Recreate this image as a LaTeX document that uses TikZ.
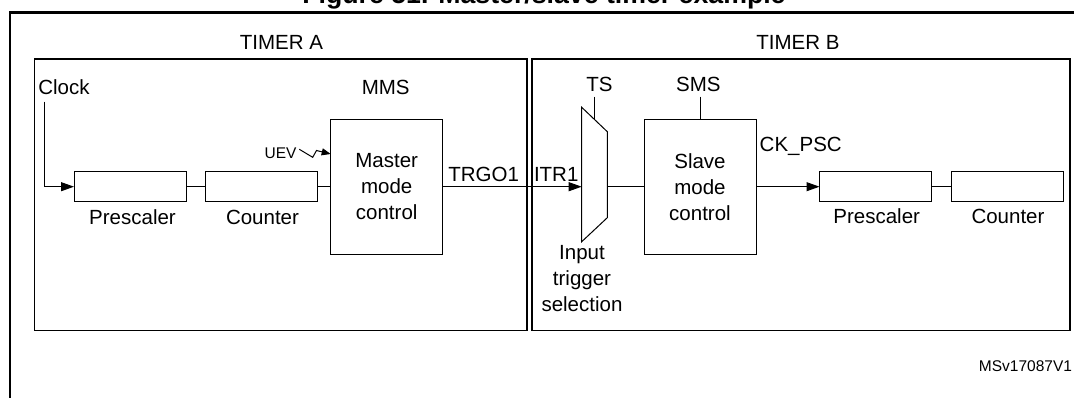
\documentclass[tikz,border=0pt]{standalone}
\usepackage{fontspec}
\setmainfont{Liberation Sans}
\usetikzlibrary{arrows.meta}
\begin{document}
\begin{tikzpicture}[x=1pt,y=-1pt,
  every node/.style={inner sep=0pt,outer sep=0pt},
  lbl/.style={font=\fontsize{20.5}{26}\selectfont},
  smalllbl/.style={font=\fontsize{15.5}{18}\selectfont},
  titlelbl/.style={font=\bfseries\fontsize{26.7}{30}\selectfont},
  blk/.style={draw,line width=1pt},
  timerbox/.style={draw,line width=1.4pt},
  conn/.style={line width=1pt},
  arr/.style={conn,-{Triangle[length=13pt,width=9pt]}},
  uevarr/.style={conn,-{Triangle[length=9pt,width=7pt]}}]
\useasboundingbox (0,0) rectangle (1074,398);

% title (cut off at top)
\node[titlelbl,anchor=base] (title) at (544,4) {Figure 51. Master/slave timer example};

% outer frame
\draw[line width=2.6pt] (10,402) -- (10,12.3) -- (1080,12.3);

% timer boxes
\node[timerbox,minimum width=492.7pt,minimum height=271.7pt] (timA) at (280.65,194.85) {};
\node[timerbox,minimum width=538pt,minimum height=271.7pt] (timB) at (801,194.85) {};
\node[lbl,anchor=base] (tA) at (281.5,50) {TIMER A};
\node[lbl,anchor=base] (tB) at (798,50) {TIMER B};

% blocks
\node[blk,minimum width=112pt,minimum height=30pt] (pA) at (130,186.7) {};
\node[blk,minimum width=112pt,minimum height=30pt] (cA) at (261.3,186.7) {};
\node[blk,minimum width=112pt,minimum height=135.3pt,lbl,align=center] (mA) at (386.7,186.7) {Master\\mode\\control};
\node[blk,minimum width=112pt,minimum height=135.3pt,lbl,align=center] (sl) at (700,186.7) {Slave\\mode\\control};
\node[blk,minimum width=112pt,minimum height=30pt] (pB) at (875.5,186.7) {};
\node[blk,minimum width=112pt,minimum height=30pt] (cB) at (1007.2,186.7) {};

% multiplexer
\draw[line width=1pt] (581.7,107.3) -- (607.3,131.7) -- (607.3,217.7) -- (581.7,241.7) -- cycle;
\coordinate (muxin) at (581.7,186.7);
\coordinate (muxout) at (607.3,186.7);
\coordinate (muxtop) at (594,119);

% labels
\node[lbl,anchor=base west] (clock) at (38.3,95) {Clock};
\node[lbl,anchor=base] (mms) at (385.7,95) {MMS};
\node[lbl,anchor=base] (ts) at (599.4,91.7) {TS};
\node[lbl,anchor=base] (sms) at (698.3,91.7) {SMS};
\node[smalllbl,anchor=base east] (uev) at (296.5,159) {UEV};
\node[lbl,anchor=base] (pAl) at (132.5,225) {Prescaler};
\node[lbl,anchor=base] (cAl) at (262.5,225) {Counter};
\node[lbl,anchor=base west] (trgo) at (448.3,181.7) {TRGO1};
\node[lbl,anchor=base west] (itr) at (534,181.7) {ITR1};
\node[lbl,anchor=base west] (ckpsc) at (759.7,151.7) {CK\_PSC};
\node[lbl,anchor=base] (pBl) at (876.7,224) {Prescaler};
\node[lbl,anchor=base] (cBl) at (1008,224) {Counter};
\node[lbl,align=center] (its) at (582,279) {Input\\trigger\\selection};
\node[smalllbl,anchor=base east] (ref) at (1072,371.7) {MSv17087V1};

% connectors
\coordinate (clk) at (44.3,101.7);
\draw[arr] (clk) |- (pA.west);
\draw[conn] (pA.east) -- (cA.west);
\draw[conn] (cA.east) -- (mA.west |- cA.east);
\draw[arr] (mA.east |- muxin) -- (muxin);
\draw[conn] (muxout) -- (sl.west |- muxout);
\draw[arr] (sl.east |- pB.west) -- (pB.west);
\draw[conn] (pB.east) -- (cB.west);

\coordinate (tsline) at (594,96.7);
\draw[conn] (tsline) -- (muxtop);
\coordinate (smsline) at (700,96.7);
\draw[conn] (smsline) -- (sl.north);

% UEV lightning
\coordinate (u1) at (299.3,149.3);
\coordinate (u2) at (312.7,157.3);
\coordinate (u3) at (316.5,150.5);
\coordinate (u4) at (330.7,154);
\draw[uevarr] (u1) -- (u2) -- (u3) -- (u4);
\end{tikzpicture}
\end{document}
